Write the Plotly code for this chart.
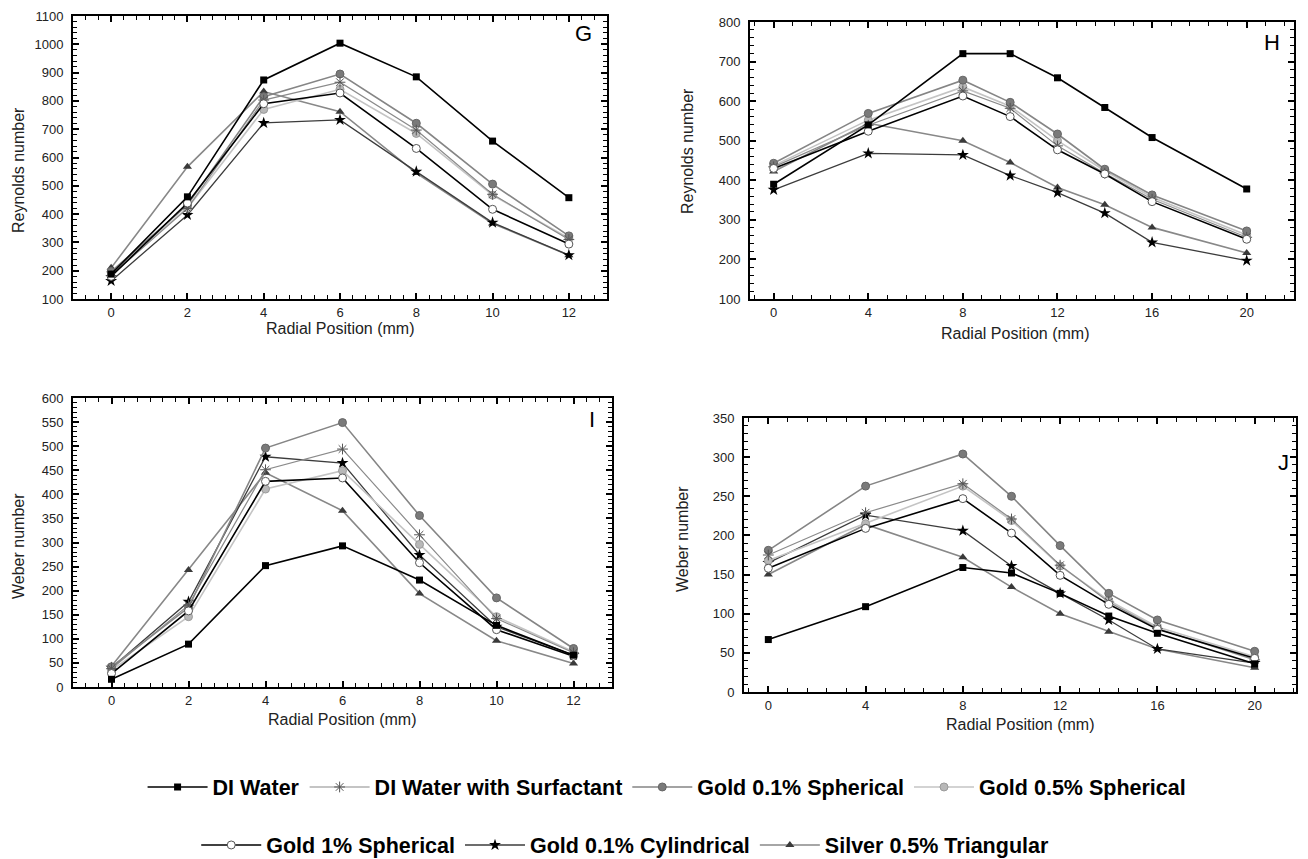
import plotly.graph_objects as go

# ---------------- data ----------------
series_names = ["DI Water", "DI Water with Surfactant", "Gold 0.1% Spherical",
                "Gold 0.5% Spherical", "Gold 1% Spherical", "Gold 0.1% Cylindrical",
                "Silver 0.5% Triangular"]

# Panel G (Reynolds number, 12 mm)
G_x = [0, 2, 4, 6, 8, 10, 12]
G_di = [188, 461, 874, 1004, 885, 658, 458]
G_surf = [183, 420, 803, 866, 697, 470, 310]
G_au01s = [197, 432, 815, 895, 721, 506, 323]
G_au05s = [195, 421, 770, 841, 685, 467, 315]
G_au1s = [180, 439, 790, 828, 632, 417, 294]
G_au01c = [164, 397, 722, 733, 550, 370, 255]
G_ag05t = [210, 567, 833, 762, 545, 367, 255]

# Panel H (Reynolds number, 20 mm)
H_x = [0, 4, 8, 10, 12, 14, 16, 20]
H_di = [390, 540, 720, 720, 659, 584, 508, 378]
H_surf = [434, 539, 626, 582, 487, 418, 352, 256]
H_au01s = [443, 569, 653, 597, 517, 428, 363, 272]
H_au05s = [437, 552, 636, 587, 500, 424, 357, 262]
H_au1s = [430, 524, 613, 561, 477, 416, 346, 251]
H_au01c = [376, 468, 464, 412, 369, 317, 243, 197]
H_ag05t = [422, 544, 500, 445, 382, 338, 281, 216]

# Panel I (Weber number, 12 mm)
I_x = [0, 2, 4, 6, 8, 10, 12]
I_di = [16, 89, 252, 293, 222, 128, 66]
I_surf = [38, 170, 451, 494, 316, 142, 71]
I_au01s = [42, 165, 496, 549, 356, 185, 80]
I_au05s = [35, 146, 411, 449, 296, 146, 73]
I_au1s = [28, 158, 427, 434, 258, 119, 64]
I_au01c = [40, 177, 478, 465, 274, 125, 66]
I_ag05t = [43, 243, 445, 366, 194, 96, 49]

# Panel J (Weber number, 20 mm)
J_x = [0, 4, 8, 10, 12, 14, 16, 20]
J_di = [67, 109, 159, 152, 126, 97, 75, 36]
J_surf = [175, 229, 266, 221, 162, 115, 81, 41]
J_au01s = [181, 263, 304, 250, 187, 126, 92, 52]
J_au05s = [168, 215, 263, 219, 161, 117, 83, 45]
J_au1s = [158, 209, 247, 203, 149, 112, 80, 43]
J_au01c = [165, 226, 206, 161, 126, 92, 55, 37]
J_ag05t = [150, 214, 172, 134, 100, 77, 55, 31]

panel_letters = ["G", "H", "I", "J"]
y_titles = ["Reynolds number", "Reynolds number", "Weber number", "Weber number"]
x_title = "Radial Position (mm)"

# ---------------- styles ----------------
styles = [
    dict(line=dict(color="#000000", width=1.6), marker=dict(symbol="square", size=7, color="#000000")),
    dict(line=dict(color="#8a8a8a", width=1.2), marker=dict(symbol="asterisk-open", size=9, color="#555555", line=dict(color="#555555", width=1))),
    dict(line=dict(color="#858585", width=1.6), marker=dict(symbol="circle", size=8, color="#7a7a7a", line=dict(color="#666666", width=1))),
    dict(line=dict(color="#c4c4c4", width=1.6), marker=dict(symbol="circle", size=8, color="#b8b8b8", line=dict(color="#9a9a9a", width=1))),
    dict(line=dict(color="#000000", width=1.6), marker=dict(symbol="circle", size=8, color="#ffffff", line=dict(color="#555555", width=1))),
    dict(line=dict(color="#3c3c3c", width=1.3), marker=dict(symbol="star", size=9, color="#000000", line=dict(width=0))),
    dict(line=dict(color="#888888", width=1.6), marker=dict(symbol="triangle-up", size=8, color="#3a3a3a", line=dict(width=0))),
]

panels = [
    (G_x, [G_di, G_surf, G_au01s, G_au05s, G_au1s, G_au01c, G_ag05t]),
    (H_x, [H_di, H_surf, H_au01s, H_au05s, H_au1s, H_au01c, H_ag05t]),
    (I_x, [I_di, I_surf, I_au01s, I_au05s, I_au1s, I_au01c, I_ag05t]),
    (J_x, [J_di, J_surf, J_au01s, J_au05s, J_au1s, J_au01c, J_ag05t]),
]

W, H = 1308, 859
# plot areas in pixels: (left, right, top, bottom)
boxes = [(73, 607, 16, 299), (750, 1294, 22, 299), (73, 612, 398, 687), (744, 1296, 418, 692)]
x_ranges = [[-1, 13], [-1, 22], [-1, 13], [-1, 21.7]]
x_dticks = [2, 4, 2, 4]
x_minor = [2 / 6, 0.8, 2 / 6, 0.8]
y_ranges = [[100, 1100], [100, 800], [0, 600], [0, 350]]
y_dticks = [100, 100, 50, 50]
y_minor = [20, 20, 10, 10]
# axis-title positions (pixels)
xtitle_pos = [(340, 329), (1015, 334), (342, 719), (1020, 724)]
ytitle_pos = [(18, 170), (687, 151), (18, 546), (682, 539)]

fig = go.Figure()
order = [6, 5, 3, 2, 1, 4, 0]
for p, (xs, ys_list) in enumerate(panels):
    xa = "x" if p == 0 else f"x{p+1}"
    ya = "y" if p == 0 else f"y{p+1}"
    for s in order:
        st = styles[s]
        fig.add_trace(go.Scatter(
            x=xs, y=ys_list[s], mode="lines+markers", name=series_names[s],
            line=st["line"], marker=st["marker"], xaxis=xa, yaxis=ya,
            showlegend=(p == 0), legend=("legend" if s < 4 else "legend2"),
            legendrank=s, cliponaxis=False,
        ))

tickfont = dict(family="Liberation Sans", size=13, color="#222222")
titlefont = dict(family="Liberation Sans", size=16, color="#222222")
layout = dict(
    width=W, height=H, margin=dict(l=0, r=0, t=0, b=0, autoexpand=False),
    paper_bgcolor="white", plot_bgcolor="white",
    font=dict(family="Liberation Sans"),
)
for p in range(4):
    l, r, t, b = boxes[p]
    xk = "xaxis" if p == 0 else f"xaxis{p+1}"
    yk = "yaxis" if p == 0 else f"yaxis{p+1}"
    xa = "x" if p == 0 else f"x{p+1}"
    ya = "y" if p == 0 else f"y{p+1}"
    layout[xk] = dict(
        domain=[l / W, r / W], anchor=ya, range=x_ranges[p], dtick=x_dticks[p], tick0=0,
        showgrid=False, zeroline=False, showline=True, linecolor="black", linewidth=2,
        mirror="allticks", ticks="inside", ticklen=6, tickwidth=1.5, tickcolor="black",
        minor=dict(ticks="inside", ticklen=4, dtick=x_minor[p], tick0=0, tickcolor="black", tickwidth=1.2),
        tickfont=tickfont, ticklabelstandoff=0,
    )
    layout[yk] = dict(
        domain=[1 - b / H, 1 - t / H], anchor=xa, range=y_ranges[p], dtick=y_dticks[p], tick0=0,
        showgrid=False, zeroline=False, showline=True, linecolor="black", linewidth=2,
        mirror="allticks", ticks="inside", ticklen=6, tickwidth=1.5, tickcolor="black",
        minor=dict(ticks="inside", ticklen=4, dtick=y_minor[p], tick0=0, tickcolor="black", tickwidth=1.2),
        tickfont=tickfont, ticklabelstandoff=5,
    )

annotations = []
letter_pos = [(583, 33), (1272, 42), (592, 419), (1283, 462)]
for (px, py), txt in zip(letter_pos, panel_letters):
    annotations.append(dict(x=px / W, y=1 - py / H, xref="paper", yref="paper", text=txt,
                            showarrow=False, xanchor="center", yanchor="middle",
                            font=dict(family="Liberation Sans", size=22, color="black")))
for (px, py) in xtitle_pos:
    annotations.append(dict(x=px / W, y=1 - py / H, xref="paper", yref="paper", text=x_title,
                            showarrow=False, xanchor="center", yanchor="middle", font=titlefont))
for (px, py), txt in zip(ytitle_pos, y_titles):
    annotations.append(dict(x=px / W, y=1 - py / H, xref="paper", yref="paper", text=txt,
                            showarrow=False, xanchor="center", yanchor="middle", textangle=-90,
                            font=titlefont))
layout["annotations"] = annotations

legend_font = dict(family="Liberation Sans", size=21.5, color="black", weight="bold")
layout["legend"] = dict(orientation="h", x=0.51, xanchor="center", y=1 - 787 / H, yanchor="middle",
                        font=legend_font, bgcolor="rgba(0,0,0,0)", traceorder="normal", itemwidth=60)
layout["legend2"] = dict(orientation="h", x=0.478, xanchor="center", y=1 - 845 / H, yanchor="middle",
                         font=legend_font, bgcolor="rgba(0,0,0,0)", traceorder="normal", itemwidth=60)

fig.update_layout(**layout)
fig.write_html("out.html")
